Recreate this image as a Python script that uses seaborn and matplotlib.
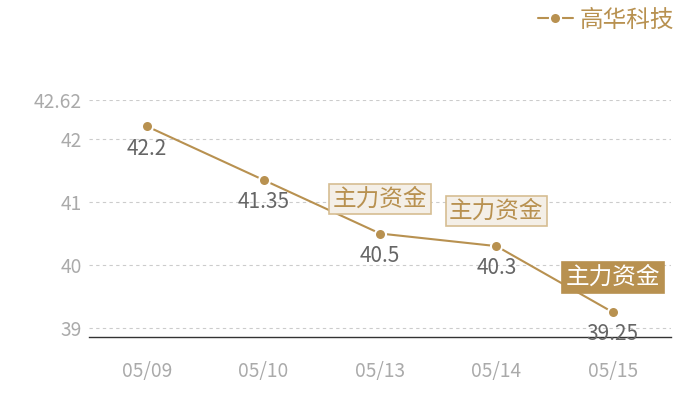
import seaborn as sns
import pandas as pd
import matplotlib.pyplot as plt

# Chart data
dates = ['05/09', '05/10', '05/13', '05/14', '05/15']
prices = [42.2, 41.35, 40.5, 40.3, 39.25]
series_name = '高华科技'
y_ticks = [39, 40, 41, 42, 42.62]
y_tick_labels = ['39', '40', '41', '42', '42.62']
flag_dates = ['05/13', '05/14', '05/15']
flag_text = '主力资金'
flag_filled = [False, False, True]

gold = '#b89150'

sns.set_theme(style='white')
plt.rcParams['font.family'] = ['Noto Sans CJK SC', 'DejaVu Sans']

df = pd.DataFrame({'date': dates, 'price': prices, 'pos': range(len(dates))})

fig = plt.figure(figsize=(7, 4), dpi=100)
ax = fig.add_axes([89/700, 1 - 337/400, (671 - 89)/700, (337 - 100)/400])

sns.lineplot(data=df, x='pos', y='price', ax=ax, color=gold, linewidth=1.5,
             marker='o', markersize=8, markeredgecolor='white', markeredgewidth=1.5,
             label=series_name)

ax.set_xlim(-0.5, len(dates) - 0.5)
ax.set_ylim(38.857, 42.62)
ax.set_xticks(range(len(dates)))
ax.set_xticklabels(dates)
ax.set_yticks(y_ticks)
ax.set_yticklabels(y_tick_labels)
ax.set_xlabel('')
ax.set_ylabel('')
ax.tick_params(axis='both', length=0, labelsize=13.8, labelcolor='#aaaaaa')
ax.tick_params(axis='x', pad=17)
ax.tick_params(axis='y', pad=5)

for y in y_ticks:
    ax.axhline(y, color='#cccccc', linewidth=0.8, linestyle=(0, (3, 3)), zorder=0)

for side in ['top', 'right', 'left']:
    ax.spines[side].set_visible(False)
ax.spines['bottom'].set_color('#333333')
ax.spines['bottom'].set_linewidth(1)

# value labels under each point
for i, v in enumerate(prices):
    ax.annotate(f'{v:g}', (i, v), xytext=(0, -16), textcoords='offset points',
                ha='center', va='center', fontsize=15, color='#666666')

# flag boxes
for d, filled in zip(flag_dates, flag_filled):
    i = dates.index(d)
    if filled:
        box = dict(boxstyle='square,pad=0.15', fc=gold, ec=gold, lw=1.2)
        tc = 'white'
    else:
        box = dict(boxstyle='square,pad=0.15', fc='#f4efe7', ec='#d6bd92', lw=1.2)
        tc = gold
    ax.annotate(flag_text, (i, prices[i]), xytext=(0, 25), textcoords='offset points',
                ha='center', va='center', fontsize=17, color=tc, bbox=box, zorder=5)

leg = ax.legend(loc='center right', bbox_to_anchor=(684/700, 1 - 20/400),
                bbox_transform=fig.transFigure, frameon=False, fontsize=17,
                handlelength=1.5, handletextpad=0.3, borderaxespad=0)
for t in leg.get_texts():
    t.set_color(gold)

fig.savefig('out.png', dpi=100)
